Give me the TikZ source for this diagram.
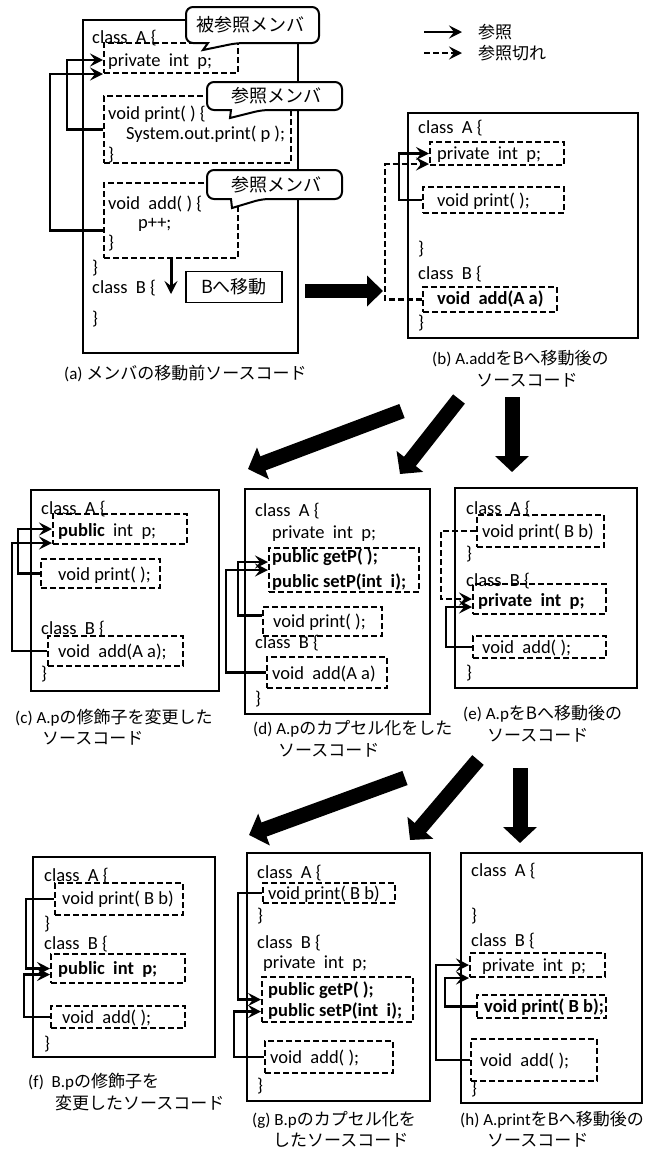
\documentclass[tikz,border=0pt]{standalone}
\usepackage{fontspec}
\setmainfont{Carlito}
\newfontfamily\jp{Noto Sans CJK JP}
\newcommand\jtx[1]{{\jp #1}}
\usetikzlibrary{arrows.meta,fit,calc}
\tikzset{
  pbox/.style={draw, line width=1.8pt, inner sep=0pt},
  dbox/.style={draw, dash pattern=on 6pt off 3pt, line width=2pt, inner sep=0pt},
  code/.style={anchor=west, inner sep=0pt, font=\fontsize{18.5}{21}\selectfont, text height=14pt, text depth=2pt},
  bcode/.style={code, font=\fontsize{18.5}{21}\selectfont\bfseries},
  captxt/.style={anchor=west, inner sep=0pt, font=\fontsize{17}{20}\selectfont, text height=14pt, text depth=2pt},
  ref/.style={draw, line width=2.3pt, -{Stealth[length=13pt,width=13pt,inset=5pt]}},
  brk/.style={ref, dash pattern=on 6pt off 3pt},
  big/.style={line width=15pt, -{Triangle[length=16pt,width=33pt]}},
  callbox/.style={draw, line width=2pt, fill=white},
  jpt/.style={inner sep=0pt, font=\fontsize{18}{21}\selectfont\jp},
}
\newcommand\mycallout[8]{%
  \draw[callbox] (#7,#8) -- (#5,#4) [rounded corners=7pt] -- (#1,#4) -- (#1,#2) -- (#3,#2) -- (#3,#4) -- (#6,#4) [sharp corners] -- cycle;}
\begin{document}
\begin{tikzpicture}[x=1pt,y=-1pt]
\useasboundingbox (0,0) rectangle (655,1157);
% ================= (a)
\node[pbox, fit={(83,20) (298,353)}] (pa) {};
\node[dbox, fit={(104,43) (238,73)}] (apriv) {};
\node[dbox, fit={(104,96) (291,163)}] (aprint) {};
\node[dbox, fit={(104,183) (238,258)}] (aadd) {};
\node[code] (a1) at (92,37) {class\ \ A \{};
\node[code] (a2) at (108,60) {private\ \ int\ \ p;};
\node[code] (a3) at (108,113) {void print( ) \{};
\node[code] (a4) at (126,133) {System.out.print( p );};
\node[code] (a5) at (108,154) {\}};
\node[code] (a6) at (108,203) {void\ \ add( ) \{};
\node[code] (a7) at (138,222) {p++;};
\node[code] (a8) at (108,242) {\}};
\node[code] (a9) at (92,267) {\}};
\node[code] (a10) at (92,287) {class\ \ B \{};
\node[code] (a11) at (92,318) {\}};
\node[draw, line width=1.8pt, minimum width=96pt, minimum height=31pt, inner sep=0pt, font=\fontsize{18}{21}\selectfont\jp] (bmove) at (234,287) {Bへ移動};
\draw[ref, line width=3pt] (aadd.south) -- ++(0,35);
\draw[ref] (aprint.west) -- ++(-36,0) |- (apriv.west |- a2.west);
\draw[ref] ([yshift=-10pt]aadd.west) -- ++(-53,0) |- (apriv.south west);
\mycallout{186}{7}{319}{43}{208}{237}{203}{50}
\node[jpt] (ca) at (250,25) {被参照メンバ};
\mycallout{207}{82}{342}{110}{231}{262}{230}{118}
\node[jpt] (cb) at (276,96) {参照メンバ};
\mycallout{207}{170}{342}{199}{231}{262}{232}{208}
\node[jpt] (cc) at (276,185) {参照メンバ};
\node[captxt] (capa) at (64,373) {(a) \jtx{メンバの移動前ソースコード}};
% legend
\coordinate (l1a) at (424,32); \coordinate (l1b) at (462,32);
\coordinate (l2a) at (424,53); \coordinate (l2b) at (462,53);
\draw[ref] (l1a) -- (l1b);
\draw[brk] (l2a) -- (l2b);
\node[jpt, anchor=west, font=\fontsize{17}{20}\selectfont\jp] (lt1) at (478,32) {参照};
\node[jpt, anchor=west, font=\fontsize{17}{20}\selectfont\jp] (lt2) at (478,53) {参照切れ};
% big arrow a -> b
\coordinate (ab1) at (305,291); \coordinate (ab2) at (383,291);
\draw[big, line width=14pt, -{Triangle[length=16pt,width=30pt]}] (ab1) -- (ab2);
% ================= (b)
\node[pbox, fit={(408,113) (638,338)}] (pb) {};
\node[dbox, fit={(430,142) (564,165)}] (bpriv) {};
\node[dbox, fit={(423,187) (564,213)}] (bprint) {};
\node[dbox, fit={(423,287) (557,312)}] (badd) {};
\node[code] (b1) at (418,127) {class\ \ A \{};
\node[code] (b2) at (437,153) {private\ \ int\ \ p;};
\node[code] (b3) at (437,200) {void print( );};
\node[code] (b4) at (418,248) {\}};
\node[code] (b5) at (418,273) {class\ \ B \{};
\node[bcode] (b6) at (437,298) {void\ \ add(A a)};
\node[code] (b7) at (418,322) {\}};
\draw[ref] (bprint.west) -- ++(-23,0) |- (bpriv.west);
\draw[brk] (badd.west) -- ++(-37,0) |- ([yshift=2pt]bpriv.south west);
\node[captxt] (capb1) at (432,358) {(b) A.add\jtx{をBへ移動後の}};
\node[captxt, anchor=center] (capb2) at (527,380) {\jtx{ソースコード}};
% arrows b -> c,d,e
\coordinate (bc1) at (402,411); \coordinate (bc2) at (248,469);
\coordinate (bd1) at (459,399); \coordinate (bd2) at (400,474);
\coordinate (be1) at (512,397); \coordinate (be2) at (512,472);
\draw[big] (bc1) -- (bc2);
\draw[big] (bd1) -- (bd2);
\draw[big] (be1) -- (be2);
% ================= (c)
\node[pbox, fit={(31,490) (219,691)}] (pc) {};
\node[dbox, fit={(53,514) (187,544)}] (cpub) {};
\node[dbox, fit={(41,559) (160,588)}] (cprint) {};
\node[dbox, fit={(48,636) (183,666)}] (cadd) {};
\node[code] (c1) at (41,508) {class\ \ A \{};
\node[code] (c2) at (58,530) {\textbf{public}\ \ int\ \ p;};
\node[code] (c3) at (58,574) {void print( );};
\node[code] (c4) at (41,628) {class\ \ B \{};
\node[code] (c5) at (58,651) {void\ \ add(A a);};
\node[code] (c6) at (41,673) {\}};
\draw[ref] (cprint.west) -- ++(-22,0) |- (cpub.west);
\draw[ref] (cadd.west) -- ++(-35,0) |- ([yshift=2pt]cpub.south west);
\node[captxt] (capc1) at (15,717) {(c) A.p\jtx{の修飾子を変更した}};
\node[captxt] (capc2) at (42,738) {\jtx{ソースコード}};
% ================= (d)
\node[pbox, fit={(245,489) (430,714)}] (pd) {};
\node[dbox, fit={(269,548) (419,592)}] (dget) {};
\node[dbox, fit={(263,607) (382,636)}] (dprint) {};
\node[dbox, fit={(267,657) (387,688)}] (dadd) {};
\node[code] (d1) at (255,510) {class\ \ A \{};
\node[code] (d2) at (272,532) {private\ \ int\ \ p;};
\node[bcode] (d3) at (272,556) {public getP( );};
\node[bcode] (d4) at (272,581) {public setP(int\ \ i);};
\node[code] (d5) at (273,621) {void print( );};
\node[code] (d6) at (255,642) {class\ \ B \{};
\node[code] (d7) at (272,673) {void\ \ add(A a)};
\node[code] (d8) at (255,698) {\}};
\draw[ref] ([yshift=6pt]dprint.west) -- ++(-24,0) |- ([yshift=8pt]dget.west);
\draw[ref] (dadd.west) -- ++(-40,0) |- (dget.west);
\node[captxt] (capd1) at (253,728) {(d) A.p\jtx{のカプセル化をした}};
\node[captxt] (capd2) at (278,750) {\jtx{ソースコード}};
% ================= (e)
\node[pbox, fit={(455,488) (637,688)}] (pe) {};
\node[dbox, fit={(477,515) (604,547)}] (eprint) {};
\node[dbox, fit={(473,584) (606,614)}] (epriv) {};
\node[dbox, fit={(473,636) (606,658)}] (eadd) {};
\node[code] (e1) at (466,508) {class\ \ A \{};
\node[code] (e2) at (482,531) {void print( B b)};
\node[code] (e3) at (466,553) {\}};
\node[code] (e4) at (466,580) {class\ \ B \{};
\node[bcode] (e5) at (478,600) {private\ \ int\ \ p;};
\node[code] (e6) at (482,647) {void\ \ add( );};
\node[code] (e7) at (466,672) {\}};
\draw[brk] (eprint.west) -- ++(-35,0) |- (epriv.west);
\draw[ref] (eadd.west) -- ++(-26,0) |- ([yshift=-8pt]epriv.west);
\node[captxt] (cape1) at (463,713) {(e) A.p\jtx{をBへ移動後の}};
\node[captxt] (cape2) at (487,735) {\jtx{ソースコード}};
% arrows row 2
\coordinate (df1) at (405,778); \coordinate (df2) at (249,835);
\coordinate (dg1) at (478,760); \coordinate (dg2) at (410,840);
\coordinate (eh1) at (520,768); \coordinate (eh2) at (520,843);
\draw[big] (df1) -- (df2);
\draw[big] (dg1) -- (dg2);
\draw[big] (eh1) -- (eh2);
% ================= (f)
\node[pbox, fit={(33,857) (215,1057)}] (pf) {};
\node[dbox, fit={(55,883) (183,915)}] (fprint) {};
\node[dbox, fit={(51,954) (185,983)}] (fpub) {};
\node[dbox, fit={(51,1006) (185,1028)}] (fadd) {};
\node[code] (f1) at (44,875) {class\ \ A \{};
\node[code] (f2) at (62,898) {void print( B b)};
\node[code] (f3) at (44,923) {\}};
\node[code] (f4) at (44,943) {class\ \ B \{};
\node[bcode] (f5) at (58,968) {public\ \ int\ \ p;};
\node[code] (f6) at (62,1017) {void\ \ add( );};
\node[code] (f7) at (44,1043) {\}};
\draw[ref] (fprint.west) -- ++(-28,0) |- (fpub.west);
\draw[ref] (fadd.west) -- ++(-26,0) |- ([yshift=-6pt]fpub.west);
\node[captxt] (capf1) at (28,1081) {(f)\ \ B.p\jtx{の修飾子を}};
\node[captxt] (capf2) at (55,1103) {\jtx{変更したソースコード}};
% ================= (g)
\node[pbox, fit={(247,853) (430,1101)}] (pg) {};
\node[dbox, fit={(263,883) (395,903)}] (gprint) {};
\node[dbox, fit={(262,977) (413,1022)}] (gget) {};
\node[dbox, fit={(265,1041) (393,1073)}] (gadd) {};
\node[code] (g1) at (257,872) {class\ \ A \{};
\node[code] (g2) at (268,893) {void print( B b)};
\node[code] (g3) at (257,915) {\}};
\node[code] (g4) at (257,942) {class\ \ B \{};
\node[code] (g5) at (263,962) {private\ \ int\ \ p;};
\node[bcode] (g6) at (268,989) {public getP( );};
\node[bcode] (g7) at (268,1010) {public setP(int\ \ i);};
\node[code] (g8) at (270,1057) {void\ \ add( );};
\node[code] (g9) at (257,1085) {\}};
\draw[ref] (gprint.west) -- ++(-24,0) |- (gget.west);
\draw[ref] (gadd.west) -- ++(-30,0) |- ([yshift=-12pt]gget.west);
\node[captxt] (capg1) at (252,1119) {(g) B.p\jtx{のカプセル化を}};
\node[captxt] (capg2) at (273,1140) {\jtx{したソースコード}};
% ================= (h)
\node[pbox, fit={(461,853) (642,1103)}] (ph) {};
\node[dbox, fit={(470,953) (605,977)}] (hpriv) {};
\node[dbox, fit={(477,995) (606,1018)}] (hprint) {};
\node[dbox, fit={(471,1039) (597,1081)}] (hadd) {};
\node[code] (h1) at (471,870) {class\ \ A \{};
\node[code] (h2) at (471,915) {\}};
\node[code] (h3) at (471,940) {class\ \ B \{};
\node[code] (h4) at (482,965) {private\ \ int\ \ p;};
\node[bcode] (h5) at (484,1006) {void print( B b);};
\node[code] (h6) at (480,1060) {void\ \ add( );};
\node[code] (h7) at (471,1088) {\}};
\draw[ref] (hprint.west) -- ++(-31,0) |- (hpriv.south west);
\draw[ref] (hadd.west) -- ++(-34,0) |- (hpriv.west);
\node[captxt] (caph1) at (460,1119) {(h) A.print\jtx{をBへ移動後の}};
\node[captxt] (caph2) at (487,1140) {\jtx{ソースコード}};
\end{tikzpicture}
\end{document}
